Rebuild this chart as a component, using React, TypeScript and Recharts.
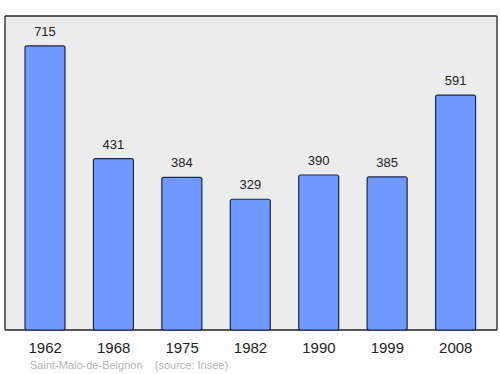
import React from "react";
import { ComposedChart, Bar, XAxis, YAxis, CartesianGrid, LabelList } from "recharts";

const years = ["1962", "1968", "1975", "1982", "1990", "1999", "2008"];
const population = [715, 431, 384, 329, 390, 385, 591];
const commune = "Saint-Malo-de-Beignon";
const source = "(source: Insee)";

const data = years.map((y, i) => ({ year: y, pop: population[i] }));

export default function App() {
  return (
    <div style={{ position: "absolute", left: 0, top: 0, width: 500, height: 374, background: "#fff", fontFamily: "'Liberation Sans', Arial, sans-serif" }}>
      <ComposedChart width={500} height={374} data={data} margin={{ top: 16, right: 3, bottom: 14, left: 5 }} barSize={40}>
        <CartesianGrid
          fill="#ececec"
          stroke="#222"
          strokeWidth={1.3}
          horizontalCoordinatesGenerator={({ offset }: any) => [offset.top, offset.top + offset.height]}
          verticalCoordinatesGenerator={({ offset }: any) => [offset.left, offset.left + offset.width]}
        />
        <XAxis
          dataKey="year"
          padding={{ left: 6, right: 7 }}
          axisLine={false}
          tickLine={false}
          tick={{ fill: "#222", fontSize: 15, fontFamily: "'Liberation Sans', Arial, sans-serif" }}
          tickMargin={6}
        />
        <YAxis hide domain={[0, 790]} type="number" />
        <Bar dataKey="pop" fill="#7099ff" stroke="#1a2a4a" strokeWidth={1.2} radius={2} isAnimationActive={false}>
          <LabelList dataKey="pop" position="top" offset={10} style={{ fill: "#222", fontSize: 13, fontFamily: "'Liberation Sans', Arial, sans-serif" }} />
        </Bar>
      </ComposedChart>
      <div style={{ position: "absolute", left: 30, top: 359, fontSize: 11, color: "#b4b4b4", whiteSpace: "pre" }}>
        {commune + "    " + source}
      </div>
    </div>
  );
}
